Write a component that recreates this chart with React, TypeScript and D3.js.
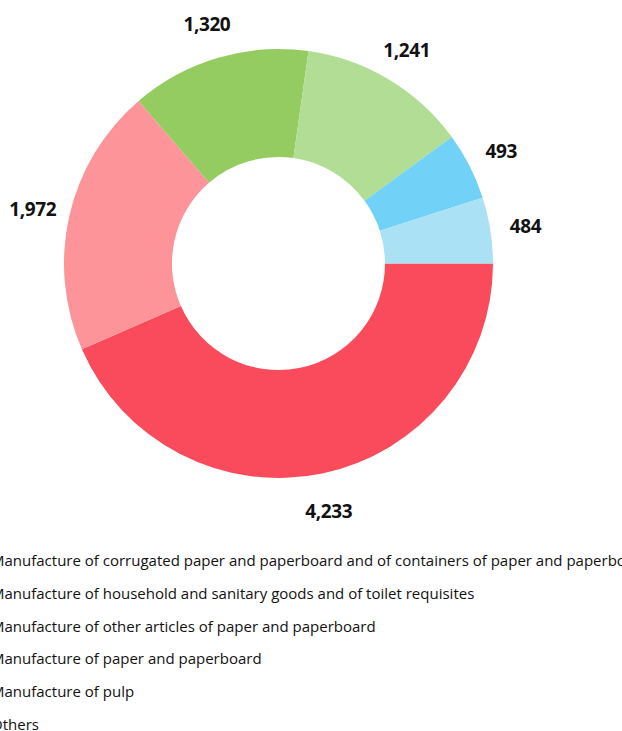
import React from "react";
import * as d3 from "d3";

const categories = [
  "Manufacture of corrugated paper and paperboard and of containers of paper and paperboard",
  "Manufacture of household and sanitary goods and of toilet requisites",
  "Manufacture of other articles of paper and paperboard",
  "Manufacture of paper and paperboard",
  "Manufacture of pulp",
  "Others",
];
const values = [4233, 1972, 1320, 1241, 493, 484];
const colors = ["#fa4b5c", "#fd9499", "#95cc61", "#b1dd95", "#72d1f6", "#aae1f4"];

const W = 622;
const H = 731;
const cx = 278.5;
const cy = 263.5;
const outerR = 214.5;
const innerR = 106.5;
const labelR = 251;

export default function App() {
  const pie = d3
    .pie<number>()
    .sort(null)
    .value((d) => d)
    .startAngle(Math.PI / 2)
    .endAngle(Math.PI / 2 + 2 * Math.PI);
  const arcs = pie(values);
  const arc = d3.arc<d3.PieArcDatum<number>>().innerRadius(innerR).outerRadius(outerR);
  const labelArc = d3.arc<d3.PieArcDatum<number>>().innerRadius(labelR).outerRadius(labelR);
  const fmt = d3.format(",");
  const legendY = d3.scaleBand<number>().domain(d3.range(categories.length)).range([544, 740]);

  return (
    <svg
      width={W}
      height={H}
      style={{ position: "absolute", left: 0, top: 0, display: "block" }}
    >
      <g transform={`translate(${cx},${cy})`}>
        {arcs.map((a, i) => (
          <path key={i} d={arc(a) || ""} fill={colors[i]} />
        ))}
        {arcs.map((a, i) => {
          const [x, y] = labelArc.centroid(a);
          return (
            <text
              key={"l" + i}
              x={x - 1}
              y={y + 1.5}
              textAnchor="middle"
              dominantBaseline="central"
              fontFamily="'Open Sans', sans-serif"
              fontWeight={700}
              fontSize={19}
              letterSpacing={-0.4}
              fill="#111"
            >
              {fmt(values[i])}
            </text>
          );
        })}
      </g>
      {categories.map((c, i) => (
        <text
          key={"g" + i}
          x={-9}
          y={(legendY(i) as number) + legendY.bandwidth() / 2}
          dominantBaseline="central"
          fontFamily="'Open Sans', sans-serif"
          fontSize={15}
          fill="#111"
        >
          {c}
        </text>
      ))}
    </svg>
  );
}
